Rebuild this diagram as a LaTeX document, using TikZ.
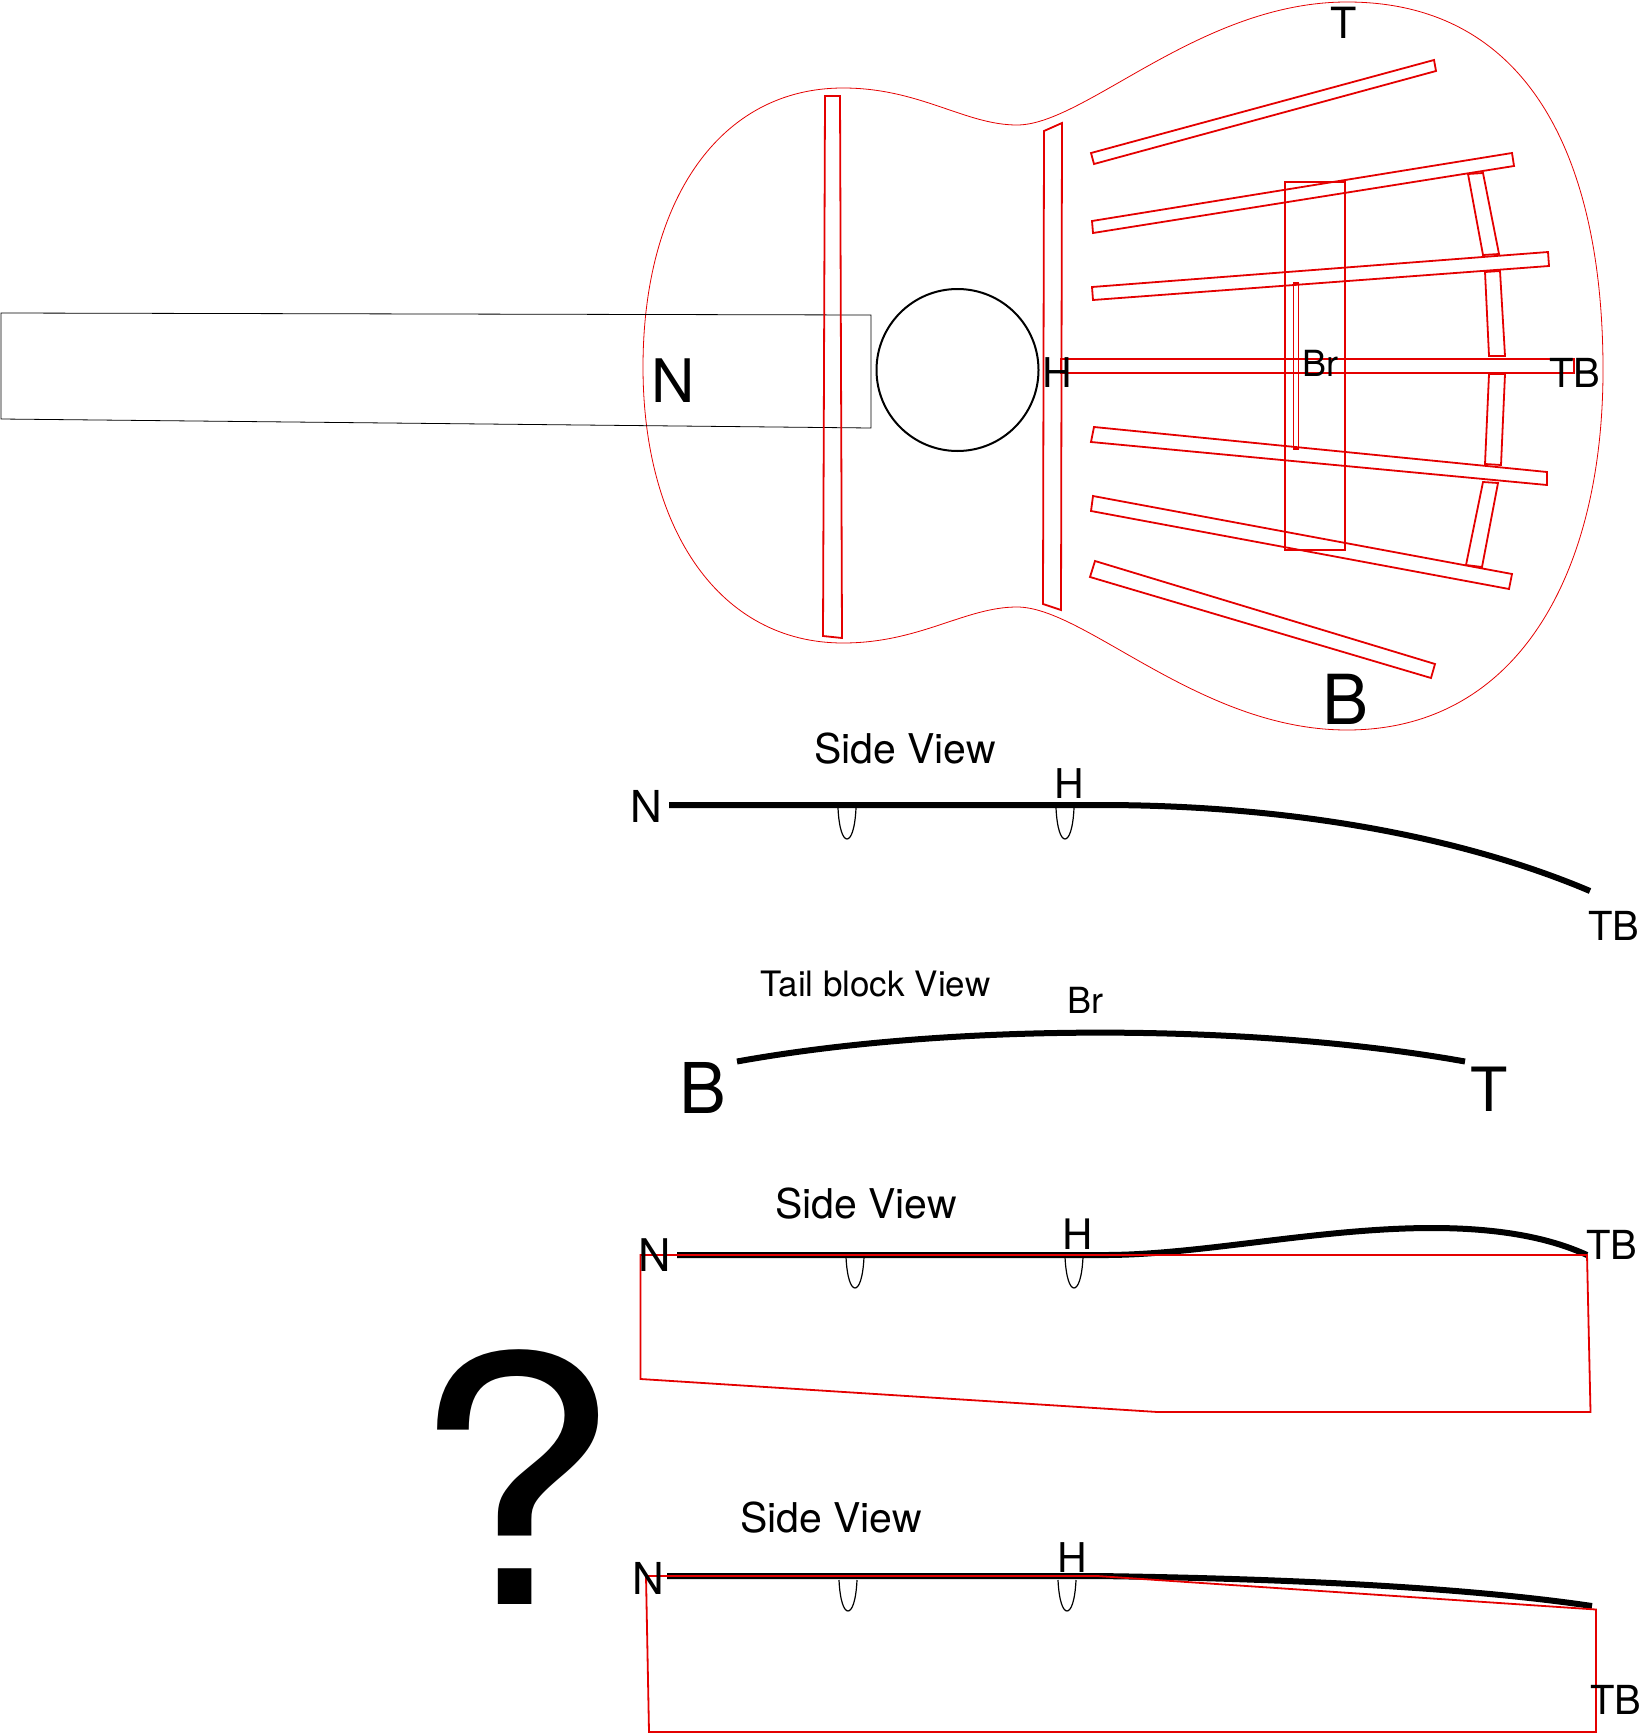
\documentclass[tikz,border=0pt]{standalone}
\usepackage{fontspec}
\setmainfont{TeX Gyre Heros}
\definecolor{bracered}{RGB}{228,0,0}
\tikzset{
    brace/.style={draw=bracered, line width=1.8pt, line join=miter},
    outline/.style={draw=bracered, line width=0.8pt},
    neck/.style={draw=black, line width=0.8pt},
    hole/.style={draw=black, line width=2pt},
    top/.style={draw=black, line width=6pt},
    dropline/.style={draw=black, line width=1.2pt},
    lab/.style={anchor=base, inner sep=0pt, font=\fontsize{#1}{#1}\selectfont},
}

\begin{document}
\begin{tikzpicture}[x=1pt, y=-1pt]

    \useasboundingbox (0,0) rectangle (1641,1734);

    \draw[outline] (643,367) .. controls (643,200) and (720,88) .. (843,88)
        .. controls (920,88) and (965,125) .. (1017,125)
        .. controls (1085,125) and (1200,2) .. (1347,2)
        .. controls (1530,2) and (1603,160) .. (1603,370)
        .. controls (1603,570) and (1520,730) .. (1347,730)
        .. controls (1200,730) and (1085,607) .. (1017,607)
        .. controls (965,607) and (920,643) .. (843,643)
        .. controls (720,643) and (643,530) .. (643,367) -- cycle;

    \draw[neck] (1,313) -- (871,315) -- (871,428) -- (1,419) -- cycle;
    \draw[hole] (957.5,370) circle (81);

    \draw[brace] (825,96) -- (840,96) -- (842,638) -- (823,636) -- cycle;
    \draw[brace] (1044,131) -- (1062,123) -- (1061,610) -- (1043,604) -- cycle;

    \draw[brace] (1091,153) -- (1434,60) -- (1436,71) -- (1094,164) -- cycle;
    \draw[brace] (1092,221) -- (1512,153) -- (1514,166) -- (1093,233) -- cycle;
    \draw[brace] (1092,287) -- (1548,252) -- (1549,266) -- (1093,300) -- cycle;
    \draw[brace] (1094,427) -- (1547,472) -- (1547,485) -- (1091,442) -- cycle;
    \draw[brace] (1093,496) -- (1512,574) -- (1509,589) -- (1091,511) -- cycle;
    \draw[brace] (1095,561) -- (1435,664) -- (1431,678) -- (1090,577) -- cycle;

    \draw[brace] (1061,359) rectangle (1574,373);
    \draw[brace] (1285,182) rectangle (1345,550);
    \draw[brace] (1293.5,283) rectangle (1298.5,449);

    \draw[brace] (1468,174) -- (1483,173) -- (1499,254) -- (1483,255) -- cycle;
    \draw[brace] (1485,272) -- (1500,271) -- (1505,356) -- (1489,356) -- cycle;
    \draw[brace] (1489,374) -- (1505,374) -- (1501,465) -- (1485,464) -- cycle;
    \draw[brace] (1483,482) -- (1498,483) -- (1482,567) -- (1466,565) -- cycle;

    \node[lab=43] (topT) at (1344,39) {T};
    \node[lab=60] (neckN) at (673.5,402) {N};
    \node[lab=41] (holeH) at (1057.5,387) {H};
    \node[lab=36] (bridgeBr) at (1320,376) {Br};
    \node[lab=40] (tailTB) at (1575,387) {TB};
    \node[lab=69] (bassB) at (1345,724) {B};

    \foreach \dx/\dy in {847/808, 1065/808, 855/1257, 1074/1257, 848/1580, 1067/1580}
        \draw[dropline] (\dx-9,\dy) .. controls (\dx-8,\dy+21) and (\dx-4,\dy+31) .. (\dx,\dy+31)
            .. controls (\dx+4,\dy+31) and (\dx+8,\dy+21) .. (\dx+9,\dy);

    \draw[top] (669,805) -- (1100,805) .. controls (1300,805) and (1470,840) .. (1590,891);
    \node[lab=41] (sideA) at (905,763) {Side View};
    \node[lab=44] (sideAN) at (646.5,822) {N};
    \node[lab=41] (sideAH) at (1069,798) {H};
    \node[lab=40] (sideATB) at (1614,940) {TB};

    \draw[top] (737,1061.5) .. controls (950,1023) and (1250,1023) .. (1465,1061.5);
    \node[lab=35] (tailView) at (875.5,996) {Tail block View};
    \node[lab=36] (tailBr) at (1085.5,1013) {Br};
    \node[lab=70] (tailB) at (703,1113) {B};
    \node[lab=61] (tailT) at (1489,1111) {T};

    \draw[top] (677,1255) -- (1105,1255) .. controls (1200,1255) and (1320,1228) .. (1432,1228)
        .. controls (1500,1228) and (1550,1238) .. (1587,1255);
    \draw[brace] (640.5,1255) -- (1587,1255) -- (1590.5,1412) -- (1157.5,1412) -- (640.5,1379) -- cycle;
    \node[lab=41] (sideB) at (866,1218) {Side View};
    \node[lab=45] (sideBN) at (655,1271) {N};
    \node[lab=42] (sideBH) at (1078,1249) {H};
    \node[lab=40] (sideBTB) at (1612,1259) {TB};

    \node[lab=346] (query) at (515,1604) {\scalebox{1.077}[0.994]{?}};

    \draw[top] (667,1576) -- (1097,1576) .. controls (1250,1578) and (1450,1585) .. (1592,1606);
    \draw[brace] (646,1576) -- (1097.5,1576) -- (1596,1609.5) -- (1596,1732) -- (649,1732) -- cycle;
    \node[lab=41] (sideC) at (831,1532.5) {Side View};
    \node[lab=44] (sideCN) at (648,1594.5) {N};
    \node[lab=41] (sideCH) at (1072,1572) {H};
    \node[lab=40] (sideCTB) at (1616,1714) {TB};

\end{tikzpicture}
\end{document}
